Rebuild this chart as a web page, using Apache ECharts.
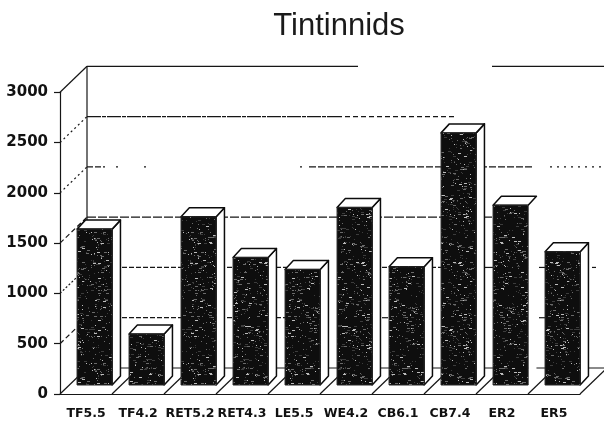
<!DOCTYPE html>
<html>
<head>
<meta charset="utf-8">
<style>html,body{margin:0;padding:0;background:#fff}#main{width:604px;height:422px}</style>
<script src="https://cdn.jsdelivr.net/npm/echarts@6/dist/echarts.min.js"></script>
</head>
<body>
<div id="main"></div>
<script>
const categories = ['TF5.5', 'TF4.2', 'RET5.2', 'RET4.3', 'LE5.5', 'WE4.2', 'CB6.1', 'CB7.4', 'ER2', 'ER5'];
const counts = [1550, 507, 1672, 1268, 1149, 1765, 1175, 2507, 1788, 1325];
const tickValues = [0, 500, 1000, 1500, 2000, 2500, 3000];

// 3d look of the old plot
const WALL_DX = 27, WALL_DY = -26;
const BAR_SHIFT_X = 8.6, BAR_SHIFT_Y = -9;
const BAR_DEPTH_X = 8.3, BAR_DEPTH_Y = -9;
const INK = '#161616';

// photocopied back wall lines, pieces that survived (px from wall left edge)
const wallPieces = {
  3000: [[0, 271], [405, 520]],
  2500: [[0, 250, [14, 1, 4, 1]], [250, 368, [5, 3]]],
  2000: [[0, 18, [6, 2]], [29, 31], [57, 59], [213, 215], [222, 445, [7, 2]], [463, 515, [2, 5]]],
  1500: [[0, 410, [9, 2]]],
  1000: [[35, 205, [5, 2]], [295, 355, [5, 2]], [398, 408], [452, 458], [505, 509]],
  500: [[35, 205, [5, 2]], [295, 301], [452, 458]],
  0: [[0, 520]]
};
const sideDash = {3000: null, 2500: [2, 3], 2000: [2, 3], 1500: [5, 3], 1000: [2, 2], 500: [5, 3], 0: null};

// stipple for the bar faces
function stipple() {
  const c = document.createElement('canvas');
  c.width = 97; c.height = 131;
  const g = c.getContext('2d');
  g.fillStyle = '#0e0e0e';
  g.fillRect(0, 0, c.width, c.height);
  let s = 12345;
  for (let i = 0; i < 800; i++) {
    s = (s * 1103515245 + 12345) & 0x7fffffff;
    const x = (s >> 8) % c.width;
    s = (s * 1103515245 + 12345) & 0x7fffffff;
    const y = (s >> 8) % c.height;
    s = (s * 1103515245 + 12345) & 0x7fffffff;
    const v = (s >> 8) % 100;
    g.fillStyle = v < 20 ? '#bdbdbd' : v < 60 ? '#6a6a6a' : '#3c3c3c';
    g.fillRect(x, y, v % 3 === 0 ? 3 : 1, 1);
  }
  return c;
}
const stippleCanvas = stipple();

function line(x1, y1, x2, y2, dash, width) {
  return {
    type: 'line',
    shape: {x1: x1, y1: y1, x2: x2, y2: y2},
    style: {stroke: INK, lineWidth: width || 1.2, lineDash: dash || null, fill: null}
  };
}

function renderWall(params, api) {
  const value = api.value(0);
  const band = api.size([1, 0])[0];
  const p = api.coord([0, value]);
  const frontX = p[0] - band / 2;
  const y = p[1];
  const backX = frontX + WALL_DX;
  const backY = y + WALL_DY;
  const children = [line(frontX, y, backX, backY, sideDash[value])];
  wallPieces[value].forEach(function (piece) {
    children.push(line(backX + piece[0], backY, backX + piece[1], backY, piece[2]));
  });
  if (value === 0) {
    // floor diagonals between the bars
    for (let i = 1; i <= categories.length; i++) {
      const fx = frontX + i * band;
      children.push(line(fx, y, fx + WALL_DX, backY));
    }
  }
  if (value === 3000) {
    const base = api.coord([0, 0]);
    children.push(line(backX, backY, backX, base[1] + WALL_DY));
  }
  return {type: 'group', children: children};
}

function renderBar(params, api) {
  const idx = api.value(0);
  const band = api.size([1, 0])[0];
  const w = band * 0.675;
  const top = api.coord([idx, api.value(1)]);
  const base = api.coord([idx, 0]);
  const x0 = top[0] - w / 2 + BAR_SHIFT_X;
  const x1 = x0 + w;
  const yTop = top[1] + BAR_SHIFT_Y;
  const yBase = base[1] + BAR_SHIFT_Y;
  const dx = BAR_DEPTH_X, dy = BAR_DEPTH_Y;
  const faded = categories[idx] === 'ER2';
  const outline = {stroke: '#0c0c0c', lineWidth: 1.5, lineJoin: 'round'};
  return {
    type: 'group',
    children: [
      {
        type: 'polygon',
        shape: {points: [[x1, yTop], [x1 + dx, yTop + dy], [x1 + dx, yBase + dy], [x1, yBase]]},
        style: faded ? {fill: '#fff'} : Object.assign({fill: '#fff'}, outline)
      },
      {
        type: 'polygon',
        shape: {points: [[x0, yTop], [x0 + dx, yTop + dy], [x1 + dx, yTop + dy], [x1, yTop]]},
        style: Object.assign({fill: '#fff'}, outline)
      },
      {
        type: 'rect',
        shape: {x: x0, y: yTop, width: w, height: yBase - yTop},
        style: {fill: {image: stippleCanvas, repeat: 'repeat'}, stroke: '#262626', lineWidth: 1}
      }
    ]
  };
}

const chart = echarts.init(document.getElementById('main'), null, {renderer: 'canvas'});
chart.setOption({
  animation: false,
  backgroundColor: '#fff',
  title: {
    text: 'Tintinnids',
    left: 334,
    top: 6,
    textAlign: 'center',
    textStyle: {fontFamily: 'Liberation Sans', fontSize: 31, fontWeight: 'normal', color: '#1a1a1a'}
  },
  grid: {left: 60, top: 92.3, width: 520, height: 301.7},
  xAxis: {
    type: 'category',
    data: categories,
    axisLine: {lineStyle: {color: INK, width: 1.2}},
    axisTick: {alignWithLabel: true, length: 5, lineStyle: {color: INK}},
    axisLabel: {
      interval: 0,
      margin: 13,
      color: '#111',
      fontFamily: 'DejaVu Sans',
      fontWeight: 'bold',
      fontSize: 12.5
    }
  },
  yAxis: {
    type: 'value',
    min: 0,
    max: 3000,
    interval: 500,
    splitLine: {show: false},
    axisLine: {show: true, lineStyle: {color: INK, width: 1.2}},
    axisTick: {show: true, length: 6, lineStyle: {color: INK, width: 1.2}},
    axisLabel: {
      margin: 12,
      color: '#111',
      fontFamily: 'DejaVu Sans',
      fontWeight: 'bold',
      fontSize: 15,
      formatter: function (v) { return String(v); }
    }
  },
  series: [
    {
      type: 'custom',
      z: 1,
      silent: true,
      renderItem: renderWall,
      encode: {y: 0},
      data: tickValues.map(function (v) { return [v]; })
    },
    {
      type: 'custom',
      z: 3,
      silent: true,
      renderItem: renderBar,
      encode: {x: 0, y: 1},
      data: counts.map(function (v, i) { return [i, v]; })
    }
  ]
});
</script>
</body>
</html>
